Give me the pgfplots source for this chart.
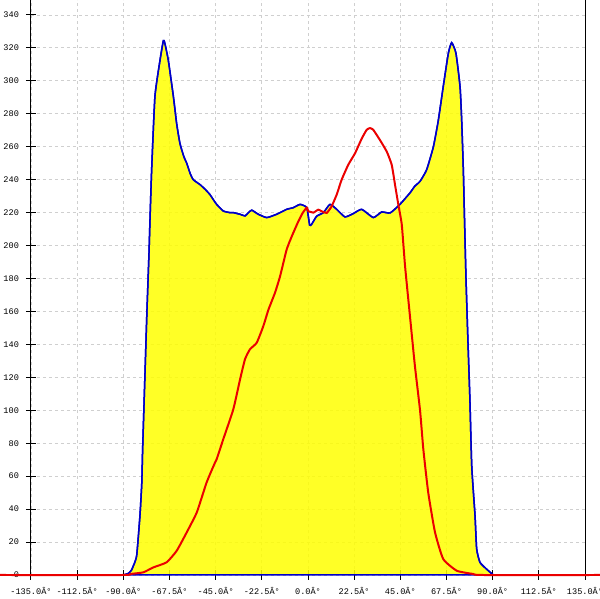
\documentclass[border=0pt]{standalone}
\usepackage{pgfplots}
\pgfplotsset{compat=1.18}
\usepackage{fontspec}
\newfontfamily\monofont{Liberation Mono}
\definecolor{fillyellow}{RGB}{255,255,0}
\definecolor{blueline}{RGB}{0,0,200}
\definecolor{redline}{RGB}{235,0,0}
\pgfplotstableread{
x y
-90 0
-87.5 1
-86 3
-85.1 5.6
-83.5 11.7
-81.9 36
-81.0 56
-80.6 76
-79.5 120
-78.5 160
-77.5 195
-77 215.8
-76.2 246
-74.6 290.5
-72.1 312.7
-70.5 324.4
-69.8 323
-68.1 312.7
-65.6 290.5
-64 274
-62.4 262
-60.5 254
-59.1 250
-57.5 244
-55.9 240
-52.6 237
-50 234
-47.8 231
-46.2 228
-44.5 225
-41.3 221
-38 220
-36.4 220
-33.1 219
-30.7 218
-29 220
-27.4 221.5
-24.2 219
-20.1 217
-15.3 219
-10.4 222
-7.2 223
-3.9 225
-0.6 223
0.8 212.5
1.8 213
4.2 217.8
7.5 220
10.7 225
14 222
18 217.4
22 219.4
26.2 222
31.8 217
35.9 220.4
40 219.8
44.8 225
49.7 232
52 236
54.6 239
57.8 246
61.1 260
63.5 276
65.9 296.5
68.4 316.8
70 323.2
72.1 316.8
74.1 296.5
74.9 276
75.7 246
76.2 220
77 180
78 140
78.9 106.7
79.8 66
81.4 36
82.2 15.8
83.8 7.7
87 3.6
90.3 0
}\bluedata
\pgfplotstableread{
x y
-150.1 0
-90 0
-86.7 0.6
-80.3 1.6
-75.4 4.6
-68.9 7.7
-64 14.7
-59.1 25.9
-54.2 38
-49.4 56.2
-45.3 68.3
-44.5 70.3
-41.3 82.4
-36.4 100.6
-33.1 118.8
-30.7 131
-28.3 137
-25 141
-21.8 151
-19.3 161
-16.1 171.3
-13.6 181.4
-10.4 197.6
-7.9 205.6
-4.7 214.7
-2.5 220
-0.6 223
0.1 221
2.6 220
5 221.8
6.7 220.8
9.1 219.8
11.5 223.8
14 231
16.4 240
19.6 249
22.9 256
26.2 265
28.6 270.3
30.2 271.3
31.8 270.3
35.1 264
38.4 257
40.8 249
42.4 237
44 225
45.7 212.7
47.3 187.5
49.7 157
52.1 126.9
54.6 100
56.2 76.4
58.6 50
61.9 25.9
65.9 9.7
72.5 2.6
80.6 0.6
85 0
142.3 0
}\reddata
\begin{document}
\begin{tikzpicture}
\begin{axis}[
  scale only axis, width=277.5pt, height=288pt,
  xmin=-135, xmax=135, ymin=0, ymax=349.1,
  axis x line=bottom, axis y line=box,
  axis line style={-, black, line width=0.5pt},
  xtick={-135,-112.5,-90,-67.5,-45,-22.5,0,22.5,45,67.5,90,112.5,135},
  xticklabels={-135.0Â°,-112.5Â°,-90.0Â°,-67.5Â°,-45.0Â°,-22.5Â°,0.0Â°,22.5Â°,45.0Â°,67.5Â°,90.0Â°,112.5Â°,135.0Â°},
  ytick={0,20,...,340},
  ytick pos=left,
  tick align=center, major tick length=5pt,
  tick style={black, line width=0.5pt},
  grid=major,
  major grid style={gray!38, dash pattern=on 1.5pt off 1.5pt, line width=0.45pt},
  ticklabel style={font=\monofont\fontsize{4.3}{5}\selectfont},
  /pgf/number format/assume math mode=true,
  clip=false,
]
\addplot[draw=blueline, line width=0.75pt, fill=fillyellow, fill opacity=0.85, draw opacity=1, smooth, tension=0.3] table[x=x,y=y] {\bluedata} \closedcycle;
\addplot[draw=blueline, line width=0.75pt, smooth, tension=0.3] table[x=x,y=y] {\bluedata};
\addplot[draw=redline, line width=1pt, smooth, tension=0.3] table[x=x,y=y] {\reddata};
\coordinate (bbl) at (axis cs:-150.1,-14.5);
\coordinate (btr) at (axis cs:142.3,349.1);
\end{axis}
\pgfresetboundingbox
\path[use as bounding box] (bbl) rectangle (btr);
\end{tikzpicture}
\end{document}
